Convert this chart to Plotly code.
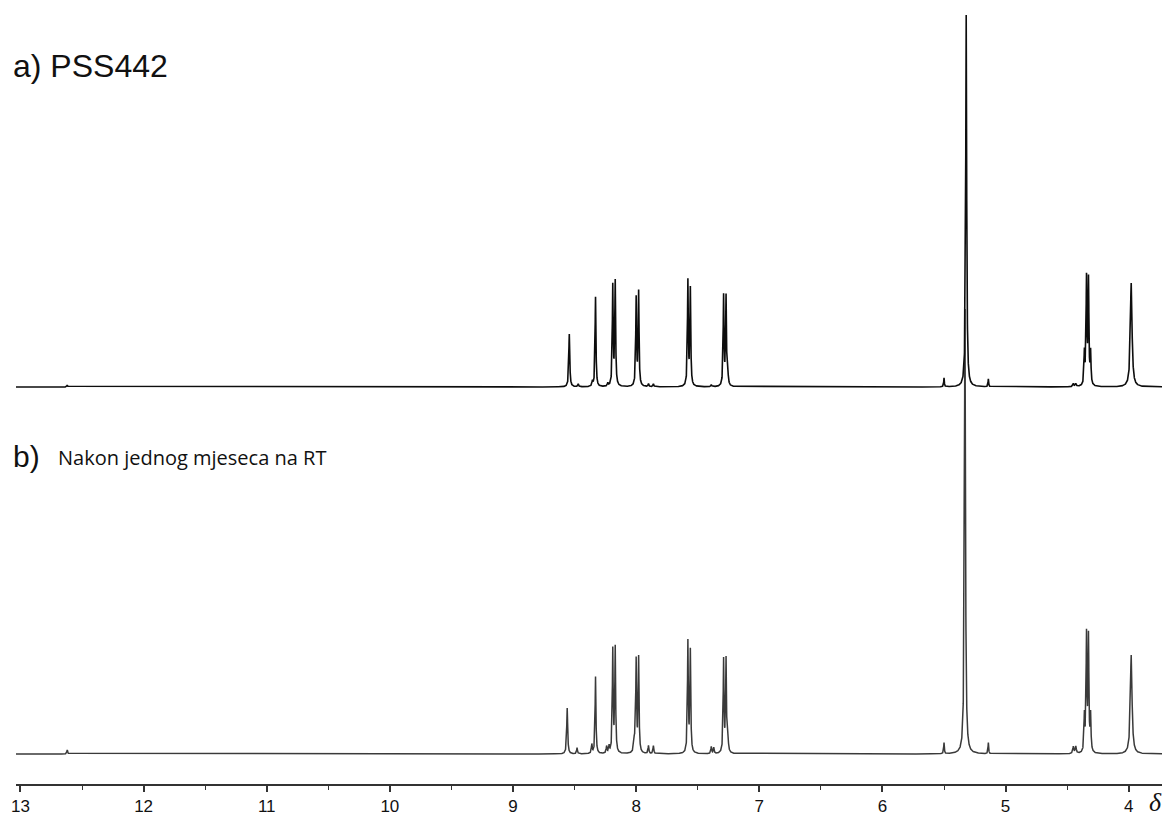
import numpy as np
import plotly.graph_objects as go

# ---------------- data ----------------
# chemical-shift axis ticks
tick_vals = [13, 12, 11, 10, 9, 8, 7, 6, 5, 4]
tick_text = ["13", "12", "11", "10", "9", "8", "7", "6", "5", "4"]
minor_vals = [12.5, 11.5, 10.5, 9.5, 8.5, 7.5, 6.5, 5.5, 4.5]

# spectrum a) PSS442 : peak positions (ppm), heights (rel. units), widths (ppm)
pos_a = [12.62, 8.543, 8.47, 8.355, 8.33, 8.23, 8.19, 8.17, 8.00, 7.98,
         7.90, 7.86, 7.58, 7.56, 7.39, 7.29, 7.27, 7.255, 5.50, 5.32,
         5.14, 4.45, 4.43, 4.36, 4.343, 4.327, 4.31, 3.98]
height_a = [2, 53, 3, 5, 90, 3, 100, 104, 88, 94,
            3, 3, 105, 97, 2, 90, 89, 9, 9, 372,
            8, 3, 3, 32, 106, 104, 32, 104]
width_a = [0.008, 0.009, 0.008, 0.008, 0.008, 0.008, 0.008, 0.008, 0.008, 0.008,
           0.008, 0.008, 0.008, 0.008, 0.008, 0.008, 0.008, 0.010, 0.006, 0.009,
           0.006, 0.010, 0.010, 0.008, 0.008, 0.008, 0.008, 0.016]

# spectrum b) after one month at RT
pos_b = [12.62, 8.56, 8.48, 8.36, 8.33, 8.24, 8.22, 8.19, 8.17, 8.015,
         8.00, 7.98, 7.90, 7.86, 7.58, 7.56, 7.39, 7.37, 7.29, 7.27,
         7.255, 5.50, 5.33, 5.14, 4.45, 4.43, 4.36, 4.343, 4.327, 4.31, 3.98]
height_b = [4, 46, 6, 9, 77, 7, 7, 103, 105, 12,
            92, 95, 8, 8, 111, 102, 7, 6, 93, 93,
            13, 11, 445, 11, 7, 7, 36, 116, 114, 36, 99]
width_b = [0.008, 0.009, 0.008, 0.008, 0.008, 0.008, 0.008, 0.008, 0.008, 0.012,
           0.008, 0.008, 0.008, 0.008, 0.008, 0.008, 0.008, 0.008, 0.008, 0.008,
           0.010, 0.006, 0.010, 0.006, 0.010, 0.010, 0.008, 0.008, 0.008, 0.008, 0.016]

label_a = "a) PSS442"
label_b1 = "b)"
label_b2 = "Nakon jednog mjeseca na RT"

# ---------------- build spectra ----------------
W, H = 1171, 816
ML, MR, MT, MB = 16, 9, 0, 32
X_RANGE = [13.036, 3.73]
Y_RANGE = [0, H - MT - MB]
BASE_A = 397   # vertical offset of trace a
BASE_B = 30    # vertical offset of trace b

ppm = np.arange(3.70, 13.06, 0.0005)


def spectrum(pos, hgt, wid):
    y = np.zeros_like(ppm)
    for p, h, w in zip(pos, hgt, wid):
        g = (w / 2) ** 2
        y += h * g / ((ppm - p) ** 2 + g)
    return y


ya = spectrum(pos_a, height_a, width_a) + BASE_A
yb = spectrum(pos_b, height_b, width_b) + BASE_B

line_style = dict(color="#0d0d0d", width=1.6)

fig = go.Figure()
fig.add_trace(go.Scatter(x=ppm, y=yb, mode="lines",
                         line=dict(color="#3a3a3a", width=1.5),
                         hoverinfo="skip", showlegend=False))
fig.add_trace(go.Scatter(x=ppm, y=ya, mode="lines", line=line_style,
                         hoverinfo="skip", showlegend=False))

plot_w = W - ML - MR
plot_h = H - MT - MB


def px_to_paper_x(px):
    return (px - ML) / plot_w


def px_to_paper_y(py):
    return (H - MB - py) / plot_h


fig.add_annotation(text=label_a, xref="paper", yref="paper",
                   x=px_to_paper_x(11), y=px_to_paper_y(66),
                   xanchor="left", yanchor="middle", showarrow=False,
                   font=dict(family="Liberation Sans, Arial", size=32, color="#111111"))
fig.add_annotation(text=label_b1, xref="paper", yref="paper",
                   x=px_to_paper_x(11), y=px_to_paper_y(456),
                   xanchor="left", yanchor="middle", showarrow=False,
                   font=dict(family="Liberation Sans, Arial", size=30, color="#111111"))
fig.add_annotation(text=label_b2, xref="paper", yref="paper",
                   x=px_to_paper_x(56), y=px_to_paper_y(458),
                   xanchor="left", yanchor="middle", showarrow=False,
                   font=dict(family="Open Sans", size=20, color="#111111"))
fig.add_annotation(text="<i>δ</i>", xref="paper", yref="paper",
                   x=px_to_paper_x(1155), y=px_to_paper_y(802),
                   xanchor="center", yanchor="middle", showarrow=False,
                   font=dict(family="Liberation Serif, DejaVu Serif", size=26, color="#111111"))

fig.update_layout(
    width=W, height=H,
    margin=dict(l=ML, r=MR, t=MT, b=MB, pad=0),
    paper_bgcolor="white", plot_bgcolor="white",
    template="none",
    showlegend=False,
    xaxis=dict(
        range=X_RANGE, autorange=False,
        showgrid=False, zeroline=False,
        showline=True, linecolor="#333333", linewidth=1.5,
        tickmode="array", tickvals=tick_vals, ticktext=tick_text,
        ticks="outside", ticklen=6, tickwidth=1.5, tickcolor="#333333",
        tickfont=dict(family="Liberation Sans, Arial", size=17, color="#111111"),
        minor=dict(tickmode="array", tickvals=minor_vals, ticks="outside",
                   ticklen=4, tickwidth=1.3, tickcolor="#333333", showgrid=False),
        automargin=False,
    ),
    yaxis=dict(range=Y_RANGE, autorange=False, visible=False, showgrid=False,
               zeroline=False, automargin=False),
)

fig.write_html("out.html")
